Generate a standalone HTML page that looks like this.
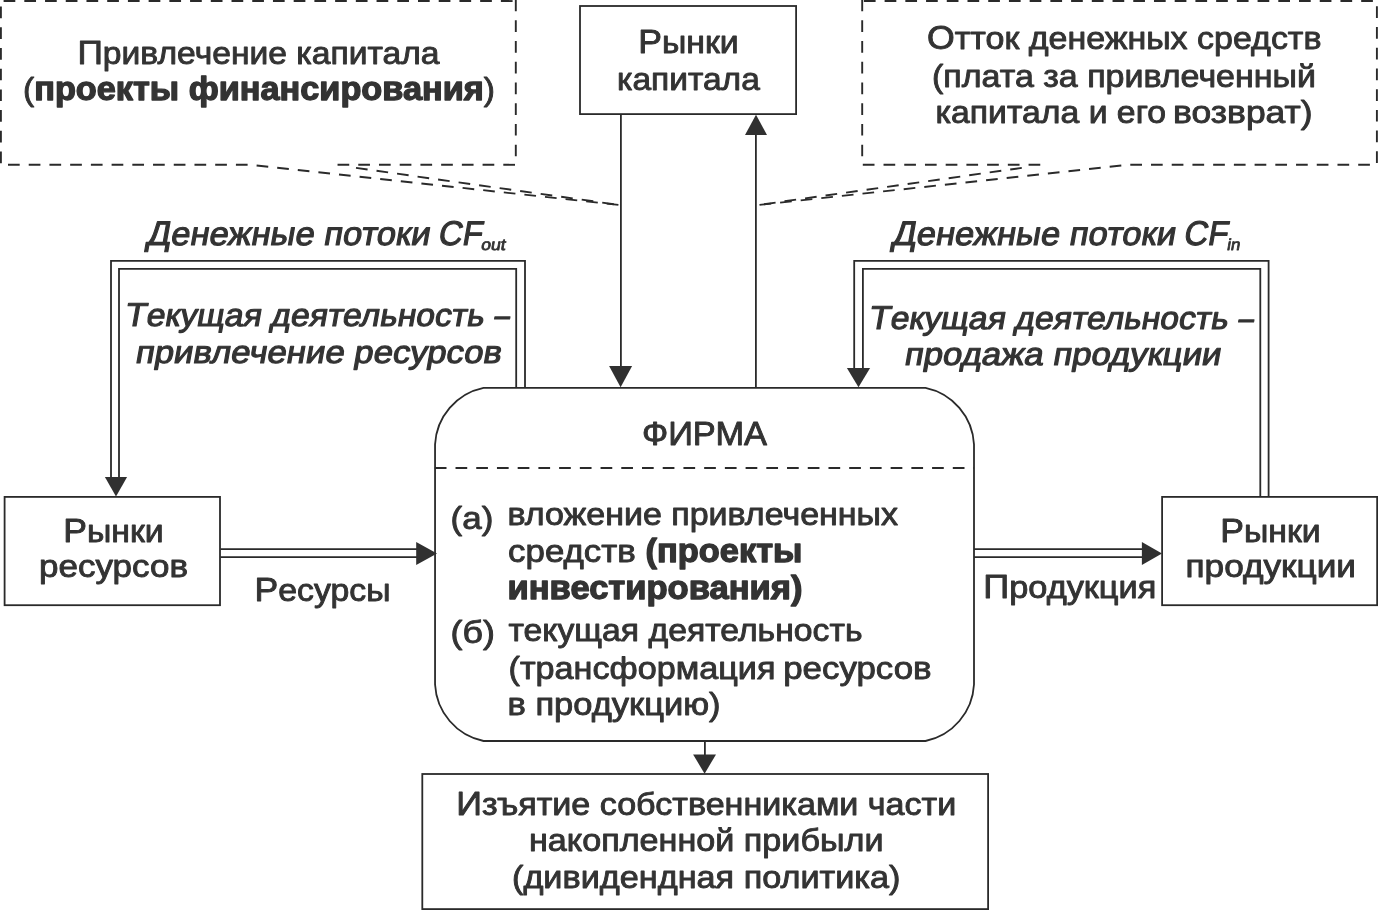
<!DOCTYPE html>
<html lang="ru"><head><meta charset="utf-8"><title>Схема</title>
<style>
html,body{margin:0;padding:0;background:#fff;}
body{width:1378px;height:910px;overflow:hidden;}
svg{display:block;will-change:transform;}
text{font-family:"Liberation Sans",sans-serif;fill:#333;stroke:#333;stroke-width:0.9px;stroke-linejoin:round;}
.n{font-size:31.8px;}
.n .u{font-size:33.4px;}
.i .u{font-size:34.2px;}
.j .u{font-size:33.1px;}
.b{font-size:32.5px;font-weight:bold;stroke-width:1.3px;}
.i{font-size:33.1px;stroke-width:1.1px;}
.j{font-size:31.8px;stroke-width:1.1px;}
.s{font-size:16px;stroke-width:0.8px;}
.l{stroke:#2a2a2a;stroke-width:1.8;fill:none;}
.d{stroke:#2a2a2a;stroke-width:1.9;fill:none;stroke-dasharray:11.7 9.02;}
.a{fill:#303030;stroke:none;}
</style></head><body>
<svg width="1378" height="910" viewBox="0 0 1378 910">
<rect x="0" y="0" width="1378" height="910" fill="#fff"/>
<path class="d" d="M3.6 1.05H516" />
<path class="d" d="M0.9 6.5V165" />
<path class="d" d="M515.8 -0.4V160" />
<path class="d" d="M8 164.8H250L619.5 205" />
<path class="d" d="M515 164.8H336" />
<path class="d" d="M356 167.9L619.5 205" />
<path class="d" d="M863.9 1.05H1378" />
<path class="d" d="M862.2 -0.4V160" />
<path class="d" d="M1376.9 6.3V165" />
<path class="d" d="M1369.9 164.8H1127.8L758.3 205" />
<path class="d" d="M862.8 164.8H1041.8" />
<path class="d" d="M1021.8 167.9L758.3 205" />
<rect class="l" x="580" y="6" width="216.1" height="108.1"/>
<rect class="l" x="4.6" y="496.9" width="215.4" height="108.3"/>
<rect class="l" x="1162.1" y="496.9" width="215.05" height="108.3"/>
<rect class="l" x="422.3" y="774" width="565.8" height="135.1"/>
<path class="l" d="M483.55 387.9H925.5A61 61 0 0 1 974.0 444.4V684.5A61 61 0 0 1 925.5 741.0H483.55A61 61 0 0 1 435.05 684.5V444.4A61 61 0 0 1 483.55 387.9Z"/>
<path class="d" d="M434.8 468H974" />
<path class="l" d="M620.9 114V368" />
<path class="a" d="M609.1 366.1H632.1L620.6 387.3Z" />
<path class="l" d="M755.9 387.5V133" />
<path class="a" d="M745 135H767L756 114.8Z" />
<path class="l" d="M704.9 741V756" />
<path class="a" d="M693.1 754.4H716L704.6 773.7Z" />
<path class="l" d="M111 479V260.9H525V387.5" />
<path class="l" d="M119 479V268.9H516.2V387.5" />
<path class="a" d="M104.9 477.1H127.1L116 496.6Z" />
<path class="l" d="M854.2 370V260.9H1268.6V496.5" />
<path class="l" d="M862.9 370V268.9H1260.3V496.5" />
<path class="a" d="M846.9 368.1H870.1L858.5 387.2Z" />
<path class="l" d="M220.5 549.1H418M220.5 557.1H418" />
<path class="a" d="M416.2 542V565L437 553.5Z" />
<path class="l" d="M974 549.1H1144M974 557.1H1144" />
<path class="a" d="M1141.9 542V565L1162 553.5Z" />
<text class="n" x="77.5" y="63.9" textLength="362" lengthAdjust="spacingAndGlyphs"><tspan class="u">П</tspan>ривлечение капитала</text>
<text class="n" x="23" y="100.3" textLength="472" lengthAdjust="spacingAndGlyphs">(<tspan class="b">проекты финансирования</tspan>)</text>
<text class="n" x="638.3" y="52.6" textLength="100.5" lengthAdjust="spacingAndGlyphs"><tspan class="u">Р</tspan>ынки</text>
<text class="n" x="617" y="89.8" textLength="142.8" lengthAdjust="spacingAndGlyphs">капитала</text>
<text class="n" x="927" y="49.4" textLength="394.5" lengthAdjust="spacingAndGlyphs"><tspan class="u">О</tspan>тток денежных средств</text>
<text class="n" x="932" y="86.5" textLength="384" lengthAdjust="spacingAndGlyphs">(плата за привлеченный</text>
<text class="n" x="935.5" y="122.8" textLength="230.5" lengthAdjust="spacingAndGlyphs">капитала и его</text>
<text class="n" x="1173.1" y="122.8" textLength="139.5" lengthAdjust="spacingAndGlyphs">возврат)</text>
<g transform="translate(145.5 244.6) skewX(-10)"><text class="i" x="0" y="0" textLength="283.5" lengthAdjust="spacingAndGlyphs"><tspan class="u">Д</tspan>енежные потоки</text></g>
<g transform="translate(437.3 244.6) skewX(-10)"><text class="i" x="0" y="0" textLength="44" lengthAdjust="spacingAndGlyphs"><tspan class="u">CF</tspan></text></g>
<g transform="translate(480.5 250) skewX(-10)"><text class="s" x="0" y="0" textLength="24.5" lengthAdjust="spacingAndGlyphs">out</text></g>
<g transform="translate(891 244.6) skewX(-10)"><text class="i" x="0" y="0" textLength="283.5" lengthAdjust="spacingAndGlyphs"><tspan class="u">Д</tspan>енежные потоки</text></g>
<g transform="translate(1182.8 244.6) skewX(-10)"><text class="i" x="0" y="0" textLength="44" lengthAdjust="spacingAndGlyphs"><tspan class="u">CF</tspan></text></g>
<g transform="translate(1226.5 250) skewX(-10)"><text class="s" x="0" y="0" textLength="13" lengthAdjust="spacingAndGlyphs">in</text></g>
<g transform="translate(123.8 326.4) skewX(-10)"><text class="j" x="0" y="0" textLength="359.5" lengthAdjust="spacingAndGlyphs"><tspan class="u">Т</tspan>екущая деятельность</text></g>
<g transform="translate(493.2 326.4) skewX(-10)"><text class="j" x="0" y="0" textLength="15.2" lengthAdjust="spacingAndGlyphs">–</text></g>
<g transform="translate(134.5 362.6) skewX(-10)"><text class="j" x="0" y="0" textLength="366" lengthAdjust="spacingAndGlyphs">привлечение ресурсов</text></g>
<g transform="translate(867.8 328.9) skewX(-10)"><text class="j" x="0" y="0" textLength="359.5" lengthAdjust="spacingAndGlyphs"><tspan class="u">Т</tspan>екущая деятельность</text></g>
<g transform="translate(1237.2 328.9) skewX(-10)"><text class="j" x="0" y="0" textLength="15.2" lengthAdjust="spacingAndGlyphs">–</text></g>
<g transform="translate(903.5 365.4) skewX(-10)"><text class="j" x="0" y="0" textLength="316.5" lengthAdjust="spacingAndGlyphs">продажа продукции</text></g>
<text class="n" x="642" y="445" textLength="125" lengthAdjust="spacingAndGlyphs"><tspan class="u">ФИРМА</tspan></text>
<text class="n" x="450.5" y="529.4" textLength="42.8" lengthAdjust="spacingAndGlyphs">(а)</text>
<text class="n" x="507.5" y="524.8" textLength="390.5" lengthAdjust="spacingAndGlyphs">вложение привлеченных</text>
<text class="n" x="508.1" y="561.7" textLength="127.6" lengthAdjust="spacingAndGlyphs">средств</text>
<text class="b" x="645.6" y="561.7" textLength="156.8" lengthAdjust="spacingAndGlyphs">(проекты</text>
<text class="b" x="507.5" y="599" textLength="295" lengthAdjust="spacingAndGlyphs">инвестирования)</text>
<text class="n" x="450.5" y="642.6" textLength="44.3" lengthAdjust="spacingAndGlyphs">(б)</text>
<text class="n" x="508.5" y="641.4" textLength="354" lengthAdjust="spacingAndGlyphs">текущая деятельность</text>
<text class="n" x="508.5" y="679" textLength="267" lengthAdjust="spacingAndGlyphs">(трансформация</text>
<text class="n" x="783.2" y="679" textLength="148.4" lengthAdjust="spacingAndGlyphs">ресурсов</text>
<text class="n" x="507.5" y="715.3" textLength="213" lengthAdjust="spacingAndGlyphs">в продукцию)</text>
<text class="n" x="63.3" y="541.6" textLength="100.5" lengthAdjust="spacingAndGlyphs"><tspan class="u">Р</tspan>ынки</text>
<text class="n" x="39" y="577.4" textLength="149" lengthAdjust="spacingAndGlyphs">ресурсов</text>
<text class="n" x="254.5" y="601.2" textLength="136" lengthAdjust="spacingAndGlyphs"><tspan class="u">Р</tspan>есурсы</text>
<text class="n" x="983.3" y="598.4" textLength="173" lengthAdjust="spacingAndGlyphs"><tspan class="u">П</tspan>родукция</text>
<text class="n" x="1220.3" y="541.6" textLength="100.5" lengthAdjust="spacingAndGlyphs"><tspan class="u">Р</tspan>ынки</text>
<text class="n" x="1185.5" y="577.4" textLength="170.5" lengthAdjust="spacingAndGlyphs">продукции</text>
<text class="n" x="456.3" y="815.4" textLength="500" lengthAdjust="spacingAndGlyphs"><tspan class="u">И</tspan>зъятие собственниками части</text>
<text class="n" x="529" y="851.4" textLength="354.5" lengthAdjust="spacingAndGlyphs">накопленной прибыли</text>
<text class="n" x="512" y="888.2" textLength="388.5" lengthAdjust="spacingAndGlyphs">(дивидендная политика)</text>
</svg></body></html>
